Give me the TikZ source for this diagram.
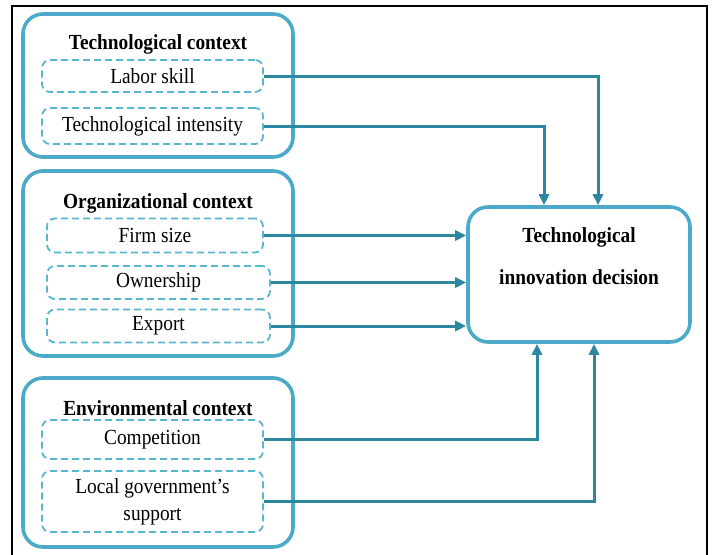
\documentclass[tikz,border=0pt]{standalone}
\usepackage{fontspec}
\setmainfont{Liberation Serif}[FakeStretch=0.9]
\usetikzlibrary{arrows.meta}
\definecolor{boxc}{HTML}{4BAAC8}
\definecolor{arrc}{HTML}{2E87A0}
\definecolor{dashc}{HTML}{58B6D0}
\begin{document}
\begin{tikzpicture}[x=1pt,y=-1pt,
  outerbox/.style={draw=boxc,line width=3.6pt,rounded corners=20pt,inner sep=0pt},
  itembox/.style={draw=dashc,line width=1.8pt,dash pattern=on 7pt off 4pt,rounded corners=8pt,inner sep=0pt,align=center,font=\fontsize{21.5}{27}\selectfont},
  titletext/.style={font=\fontsize{21.5}{23}\selectfont\bfseries},
  conn/.style={draw=arrc,line width=3pt,-{Triangle[length=11pt,width=10pt]}}
]
\useasboundingbox (0,0) rectangle (714,554);
\draw[black,line width=1.2pt] (12,560) -- (12,6) -- (707,6) -- (707,560);

% outer context boxes
\node[outerbox,minimum width=270pt,minimum height=143pt] (techbox) at (158,85.5) {};
\node[outerbox,minimum width=270pt,minimum height=185pt] (orgbox) at (158,263.5) {};
\node[outerbox,minimum width=270pt,minimum height=169pt] (envbox) at (158,462.5) {};

\node[titletext] (techt) at (158,44) {Technological context};
\node[titletext] (orgt) at (158,203) {Organizational context};
\node[titletext] (envt) at (158,408) {Environmental context};

% items
\node[itembox,minimum width=221pt,minimum height=32pt] (ls) at (152.5,76) {Labor skill};
\node[itembox,minimum width=221pt,minimum height=36pt] (ti) at (152.5,126) {Technological intensity};
\node[itembox,minimum width=216pt,minimum height=34pt] (fs) at (155,235.5) {Firm size};
\node[itembox,minimum width=223pt,minimum height=33pt] (ow) at (158.5,282.5) {Ownership};
\node[itembox,minimum width=223pt,minimum height=33pt] (ex) at (158.5,326) {Export};
\node[itembox,minimum width=221pt,minimum height=39pt] (co) at (152.5,439.5) {Competition};
\node[itembox,minimum width=221pt,minimum height=61pt] (lg) at (152.5,501.5) {Local government’s\\support};

% decision box
\node[outerbox,minimum width=222pt,minimum height=135pt] (dec) at (579,274.5) {};
\node[titletext,align=center,font=\fontsize{21.5}{42}\selectfont\bfseries] (dect) at (579,256) {Technological\\innovation decision};

% connectors
\draw[conn] (ls.east) -| ([xshift=19pt]dec.north);
\draw[conn] (ti.east) -| ([xshift=-35pt]dec.north);
\draw[conn] (fs.east) -- (fs.east -| dec.west);
\draw[conn] (ow.east) -- (ow.east -| dec.west);
\draw[conn] (ex.east) -- (ex.east -| dec.west);
\draw[conn] (co.east) -| ([xshift=-42pt]dec.south);
\draw[conn] (lg.east) -| ([xshift=15pt]dec.south);
\end{tikzpicture}
\end{document}
